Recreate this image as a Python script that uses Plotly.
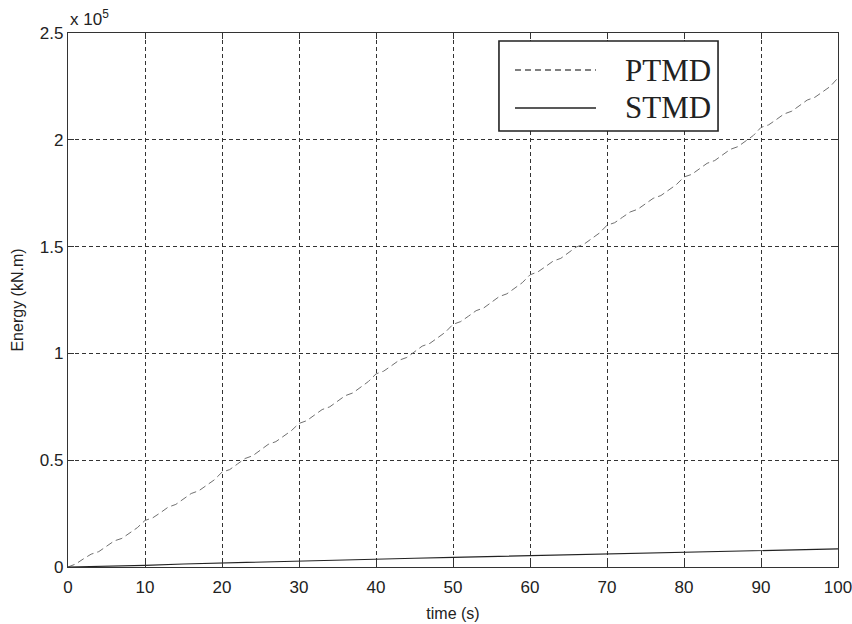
import plotly.graph_objects as go

# Time axis (s)
time_ptmd = list(range(0, 101))
# Cumulative dissipated energy of the passive TMD, in units of 1e5 kN.m
energy_ptmd = [
    0.000, 0.014, 0.038, 0.060, 0.072, 0.098, 0.122, 0.134, 0.160, 0.184,
    0.218, 0.230, 0.254, 0.280, 0.293, 0.318, 0.344, 0.357, 0.382, 0.408,
    0.444, 0.456, 0.482, 0.508, 0.521, 0.548, 0.574, 0.587, 0.612, 0.638,
    0.672, 0.685, 0.711, 0.737, 0.750, 0.776, 0.802, 0.815, 0.842, 0.868,
    0.904, 0.917, 0.942, 0.968, 0.981, 1.008, 1.034, 1.047, 1.073, 1.099,
    1.136, 1.149, 1.174, 1.200, 1.213, 1.240, 1.266, 1.279, 1.305, 1.331,
    1.368, 1.381, 1.406, 1.432, 1.445, 1.472, 1.498, 1.511, 1.537, 1.563,
    1.600, 1.612, 1.637, 1.662, 1.675, 1.700, 1.726, 1.739, 1.765, 1.790,
    1.826, 1.838, 1.864, 1.890, 1.903, 1.929, 1.955, 1.968, 1.994, 2.020,
    2.058, 2.070, 2.095, 2.121, 2.134, 2.160, 2.186, 2.199, 2.224, 2.250,
    2.290,
]

time_stmd = [0, 5, 10, 15, 20, 25, 30, 35, 40, 45, 50,
             55, 60, 65, 70, 75, 80, 85, 90, 95, 100]
# Cumulative dissipated energy of the semi-active TMD, in units of 1e5 kN.m
energy_stmd = [0.000, 0.003, 0.008, 0.014, 0.019, 0.024, 0.029, 0.033, 0.037, 0.041, 0.045,
               0.049, 0.053, 0.057, 0.061, 0.065, 0.069, 0.073, 0.077, 0.081, 0.085]

x_ticks = [0, 10, 20, 30, 40, 50, 60, 70, 80, 90, 100]
y_ticks = [0, 0.5, 1, 1.5, 2, 2.5]
y_tick_text = ["0", "0.5", "1", "1.5", "2", "2.5"]
series_names = ["PTMD", "STMD"]

sans = "Liberation Sans, Arial, sans-serif"
serif = "Liberation Serif, Times New Roman, serif"

fig = go.Figure()
fig.add_trace(go.Scatter(x=time_ptmd, y=energy_ptmd, mode="lines", name=series_names[0],
                         line=dict(color="#707070", width=1, dash="7px,4px")))
fig.add_trace(go.Scatter(x=time_stmd, y=energy_stmd, mode="lines", name=series_names[1],
                         line=dict(color="#222222", width=1.2)))

axis_common = dict(
    showline=True, linecolor="#333333", linewidth=1.3, mirror="ticks",
    ticks="inside", ticklen=6, tickcolor="#333333",
    showgrid=True, gridcolor="#333333", gridwidth=1, griddash="4px,3px",
    zeroline=False, tickfont=dict(family=sans, size=17, color="#222222"),
    ticklabeloverflow="allow", automargin=False,
)

fig.update_layout(
    width=852, height=624,
    margin=dict(l=68, r=14, t=33, b=57),
    paper_bgcolor="white", plot_bgcolor="white",
    showlegend=False,
    xaxis=dict(range=[0, 100], tickvals=x_ticks, ticklabelstandoff=4,
               title=dict(text="time (s)", font=dict(family=sans, size=16, color="#222222"),
                          standoff=12),
               **axis_common),
    yaxis=dict(range=[0, 2.5], tickvals=y_ticks, ticktext=y_tick_text,
               title=dict(text="Energy (kN.m)", font=dict(family=sans, size=16, color="#222222"),
                          standoff=12),
               **axis_common),
)

# Exponent label of the y axis
fig.add_annotation(xref="paper", yref="paper", x=0.0, y=1.0, xanchor="left", yanchor="bottom",
                   yshift=2, showarrow=False,
                   text="x 10<sup>5</sup>", font=dict(family=sans, size=17, color="#222222"))

# Boxed legend
lx0, lx1, ly0, ly1 = 0.5597, 0.8442, 0.8165, 0.985
fig.add_shape(type="rect", xref="paper", yref="paper", x0=lx0, x1=lx1, y0=ly0, y1=ly1,
              line=dict(color="#222222", width=1.6), fillcolor="white", layer="above")
legend_rows = [(0.9307, "#555555", "6px,4px"), (0.8596, "#222222", "solid")]
for name, (ly, col, dash) in zip(series_names, legend_rows):
    fig.add_shape(type="line", xref="paper", yref="paper", x0=0.5805, x1=0.6857, y0=ly, y1=ly,
                  line=dict(color=col, width=1.4, dash=dash), layer="above")
    fig.add_annotation(xref="paper", yref="paper", x=0.7208, y=ly, xanchor="left", yanchor="middle",
                       showarrow=False, text=name,
                       font=dict(family=serif, size=31, color="#222222"))

fig.write_html("out.html")
